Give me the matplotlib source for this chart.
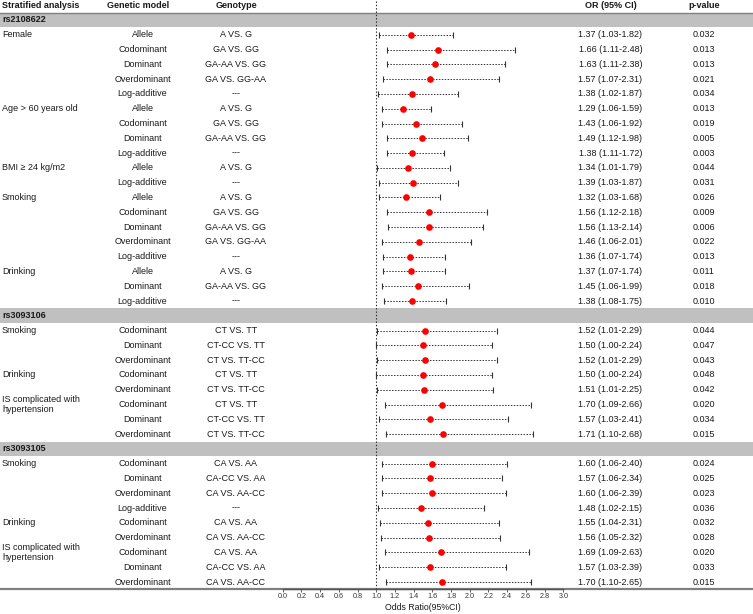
import matplotlib
matplotlib.use("Agg")
import matplotlib.pyplot as plt
import numpy as np

plt.rcParams['font.family'] = ['Liberation Sans', 'DejaVu Sans']

# ---------------- data ----------------
snp_names = ["rs2108622", "rs3093106", "rs3093105"]
row_snp = [0]*19 + [1]*8 + [2]*9
strata = ["Female", "", "", "", "",
          "Age > 60 years old", "", "", "",
          "BMI ≥ 24 kg/m2", "",
          "Smoking", "", "", "", "",
          "Drinking", "", "",
          "Smoking", "", "",
          "Drinking", "",
          "IS complicated with\nhypertension", "", "",
          "Smoking", "", "", "",
          "Drinking", "",
          "IS complicated with\nhypertension", "", ""]
models = ["Allele", "Codominant", "Dominant", "Overdominant", "Log-additive",
          "Allele", "Codominant", "Dominant", "Log-additive",
          "Allele", "Log-additive",
          "Allele", "Codominant", "Dominant", "Overdominant", "Log-additive",
          "Allele", "Dominant", "Log-additive",
          "Codominant", "Dominant", "Overdominant",
          "Codominant", "Overdominant",
          "Codominant", "Dominant", "Overdominant",
          "Codominant", "Dominant", "Overdominant", "Log-additive",
          "Codominant", "Overdominant",
          "Codominant", "Dominant", "Overdominant"]
genotypes = ["A VS. G", "GA VS. GG", "GA-AA VS. GG", "GA VS. GG-AA", "---",
             "A VS. G", "GA VS. GG", "GA-AA VS. GG", "---",
             "A VS. G", "---",
             "A VS. G", "GA VS. GG", "GA-AA VS. GG", "GA VS. GG-AA", "---",
             "A VS. G", "GA-AA VS. GG", "---",
             "CT VS. TT", "CT-CC VS. TT", "CT VS. TT-CC",
             "CT VS. TT", "CT VS. TT-CC",
             "CT VS. TT", "CT-CC VS. TT", "CT VS. TT-CC",
             "CA VS. AA", "CA-CC VS. AA", "CA VS. AA-CC", "---",
             "CA VS. AA", "CA VS. AA-CC",
             "CA VS. AA", "CA-CC VS. AA", "CA VS. AA-CC"]
or_vals = [1.37, 1.66, 1.63, 1.57, 1.38,
           1.29, 1.43, 1.49, 1.38,
           1.34, 1.39,
           1.32, 1.56, 1.56, 1.46, 1.36,
           1.37, 1.45, 1.38,
           1.52, 1.50, 1.52,
           1.50, 1.51,
           1.70, 1.57, 1.71,
           1.60, 1.57, 1.60, 1.48,
           1.55, 1.56,
           1.69, 1.57, 1.70]
ci_low = [1.03, 1.11, 1.11, 1.07, 1.02,
          1.06, 1.06, 1.12, 1.11,
          1.01, 1.03,
          1.03, 1.12, 1.13, 1.06, 1.07,
          1.07, 1.06, 1.08,
          1.01, 1.00, 1.01,
          1.00, 1.01,
          1.09, 1.03, 1.10,
          1.06, 1.06, 1.06, 1.02,
          1.04, 1.05,
          1.09, 1.03, 1.10]
ci_high = [1.82, 2.48, 2.38, 2.31, 1.87,
           1.59, 1.92, 1.98, 1.72,
           1.79, 1.87,
           1.68, 2.18, 2.14, 2.01, 1.74,
           1.74, 1.99, 1.75,
           2.29, 2.24, 2.29,
           2.24, 2.25,
           2.66, 2.41, 2.68,
           2.40, 2.34, 2.39, 2.15,
           2.31, 2.32,
           2.63, 2.39, 2.65]
p_values = ["0.032", "0.013", "0.013", "0.021", "0.034",
            "0.013", "0.019", "0.005", "0.003",
            "0.044", "0.031",
            "0.026", "0.009", "0.006", "0.022", "0.013",
            "0.011", "0.018", "0.010",
            "0.044", "0.047", "0.043",
            "0.048", "0.042",
            "0.020", "0.034", "0.015",
            "0.024", "0.025", "0.023", "0.036",
            "0.032", "0.028",
            "0.020", "0.033", "0.015"]
x_ticks = [0.0, 0.2, 0.4, 0.6, 0.8, 1.0, 1.2, 1.4, 1.6, 1.8, 2.0,
           2.2, 2.4, 2.6, 2.8, 3.0]
col_headers = ["Stratified analysis", "Genetic model", "Genotype",
               "OR (95% CI)", "p-value"]

# ---------------- layout ----------------
W, H = 753, 614
fig = plt.figure(figsize=(W/100, H/100), dpi=100)

row_px = 14.79
first_px = 20.0
bottom_px = 588.5
y_top = -first_px/row_px
y_bot = (bottom_px - first_px)/row_px

ax_bottom = (H - bottom_px)/H
ax_h = bottom_px/H
bg = fig.add_axes([0, ax_bottom, 1, ax_h], zorder=0)
bg.set_xlim(0, W)
bg.set_ylim(y_bot, y_top)
bg.axis('off')

fx0, fx1 = 282.7, 563.3
ax = fig.add_axes([fx0/W, ax_bottom, (fx1-fx0)/W, ax_h], zorder=1)
ax.patch.set_alpha(0)
ax.set_xlim(0, 3.0)
ax.set_ylim(y_bot, y_top)

# compute row positions
ypos = []
header_pos = []
k = 0
prev = None
for s in row_snp:
    if s != prev:
        header_pos.append(k)
        k += 1
        prev = s
    ypos.append(k)
    k += 1
ypos = np.array(ypos, dtype=float)

fs = 6.5
tc = '#1a1a1a'
x_strat, x_model, x_geno, x_or, x_p = 2, 142.5, 236, 610.5, 704

# column headers
hy = -0.95
bg.text(x_strat, hy, col_headers[0], ha='left', va='center', fontsize=fs, fontweight='bold', color=tc)
bg.text(138.5, hy, col_headers[1], ha='center', va='center', fontsize=fs, fontweight='bold', color=tc)
bg.text(x_geno, hy, col_headers[2], ha='center', va='center', fontsize=fs, fontweight='bold', color=tc)
bg.text(x_or, hy, col_headers[3], ha='center', va='center', fontsize=fs, fontweight='bold', color=tc)
bg.text(x_p, hy, col_headers[4], ha='center', va='center', fontsize=fs, fontweight='bold', color=tc)

# snp bands
for i, hp in enumerate(header_pos):
    bg.axhspan(hp-0.5, hp+0.5, color='#c0c0c0', lw=0, zorder=0)
    bg.text(x_strat, hp, snp_names[i], ha='left', va='center', fontsize=fs, fontweight='bold', color=tc)
bg.axhline(header_pos[0]-0.45, color='#808080', lw=1.0, zorder=1)
bg.axhline(y_bot, color='#808080', lw=1.6, zorder=1, clip_on=False)

# row texts
for i, y in enumerate(ypos):
    if strata[i]:
        bg.text(x_strat, y, strata[i], ha='left', va='center', fontsize=fs,
                linespacing=1.05, color=tc)
    bg.text(x_model, y, models[i], ha='center', va='center', fontsize=fs, color=tc)
    bg.text(x_geno, y, genotypes[i], ha='center', va='center', fontsize=fs, color=tc)
    bg.text(x_or, y, f"{or_vals[i]:.2f} ({ci_low[i]:.2f}-{ci_high[i]:.2f})",
            ha='center', va='center', fontsize=fs, color=tc)
    bg.text(x_p, y, p_values[i], ha='center', va='center', fontsize=fs, color=tc)

# forest
ax.axvline(1.0, color='#222222', lw=0.8, ls=(0, (1.2, 1.8)), zorder=1)
ax.hlines(ypos, ci_low, ci_high, colors='#333333', lw=0.7, linestyles=(0, (1.5, 1.5)), zorder=2)
ax.plot(ci_low, ypos, ls='none', marker='|', ms=4.5, mew=0.8, color='#333333', zorder=2)
ax.plot(ci_high, ypos, ls='none', marker='|', ms=4.5, mew=0.8, color='#333333', zorder=2)
ax.plot(or_vals, ypos, ls='none', marker='o', ms=4.8, color='#ff0000', mec='none', zorder=3)

for sp in ['top', 'right', 'left']:
    ax.spines[sp].set_visible(False)
ax.spines['bottom'].set_color('#555555')
ax.spines['bottom'].set_linewidth(1.0)
ax.set_yticks([])
ax.set_xticks(x_ticks)
ax.set_xticklabels([f"{t:.1f}" for t in x_ticks], fontsize=5.2, color='#333333')
ax.tick_params(axis='x', length=2.5, width=0.6, color='#444444', pad=0.8)
ax.set_xlabel("Odds Ratio(95%CI)", fontsize=6.3, labelpad=2.0, color=tc)

fig.savefig("out.png", dpi=100)
